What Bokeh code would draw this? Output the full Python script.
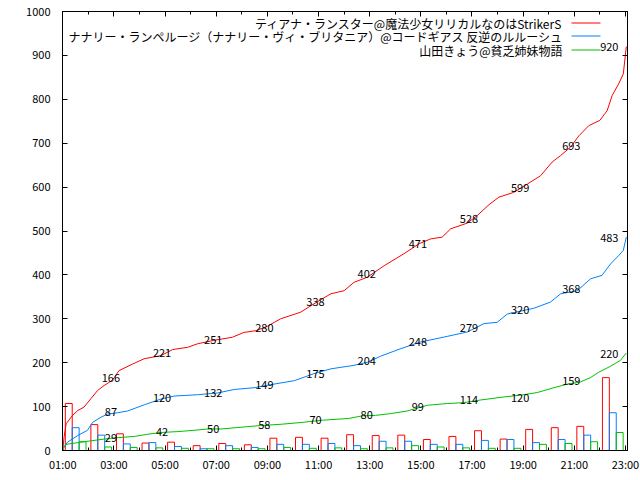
from bokeh.plotting import figure
from bokeh.models import Range1d, FixedTicker, LinearAxis, Label, Arrow, CustomLabelingPolicy
from bokeh.core.properties import value
from bokeh.embed import file_html
from bokeh.resources import INLINE

FONT = "Noto Sans CJK JP"

series_names = [
    "ティアナ・ランスター@魔法少女リリカルなのはStrikerS",
    "ナナリー・ランペルージ（ナナリー・ヴィ・ブリタニア）@コードギアス 反逆のルルーシュ",
    "山田きょう@貧乏姉妹物語",
]
colors = ["#ff0000", "#0080ff", "#00c000"]

# cumulative lines (time, cumulative count)
red_times = ["01:00", "01:03", "01:08", "01:23", "01:35", "01:50", "02:06", "02:22", "02:37", "02:53",
             "03:01", "03:12", "03:44", "04:11", "04:50", "05:18", "05:53", "06:16", "06:55", "07:38",
             "08:05", "08:33", "09:00", "09:31", "10:18", "10:49", "11:29", "12:00", "12:23", "12:55",
             "13:34", "14:20", "14:56", "15:23", "15:50", "16:10", "16:49", "17:12", "17:40", "18:03",
             "18:38", "19:10", "19:41", "20:08", "20:28", "20:51", "21:11", "21:34", "22:00", "22:17",
             "22:29", "22:44", "22:55", "22:58", "23:02"]
red_values = [0, 30, 61, 80, 91, 99, 118, 137, 148, 158,
              166, 182, 197, 209, 216, 230, 235, 243, 251, 258,
              269, 273, 283, 300, 315, 334, 357, 364, 383, 395,
              421, 448, 471, 482, 486, 505, 518, 535, 560, 577,
              588, 607, 626, 657, 672, 691, 717, 740, 752, 774,
              809, 835, 858, 885, 920]

blue_times = ["01:00", "01:01", "01:11", "01:35", "01:58", "02:10", "02:30", "02:45", "03:09", "03:32",
              "04:11", "04:50", "05:21", "06:16", "07:03", "07:42", "08:29", "09:08", "10:03", "10:49",
              "11:29", "12:23", "12:55", "13:26", "14:13", "14:59", "16:02", "16:49", "17:28", "17:59",
              "18:23", "19:25", "20:04", "20:28", "21:07", "21:38", "22:05", "22:25", "22:44", "22:55",
              "23:02"]
blue_values = [0, 4, 19, 34, 46, 64, 76, 83, 86, 90,
               104, 117, 124, 127, 131, 139, 143, 150, 159, 175,
               186, 194, 201, 215, 232, 247, 260, 270, 289, 292,
               311, 324, 338, 357, 364, 391, 399, 425, 444, 456,
               486]

green_times = ["01:00", "01:02", "01:08", "01:35", "02:06", "02:37", "03:05", "03:48", "04:19", "04:50",
               "05:29", "06:08", "06:40", "07:11", "07:46", "08:33", "09:35", "10:22", "11:09", "12:11",
               "12:43", "13:14", "13:49", "14:28", "15:15", "16:02", "16:41", "17:20", "18:15", "18:54",
               "19:33", "20:12", "20:43", "21:14", "21:38", "21:57", "22:25", "22:48", "23:02"]
green_values = [0, 8, 14, 18, 22, 26, 29, 32, 37, 41,
                43, 46, 49, 49, 52, 56, 60, 64, 69, 73,
                79, 80, 84, 90, 103, 107, 109, 115, 122, 126,
                132, 143, 151, 156, 166, 178, 192, 205, 222]

# hourly counts (bars)
bar_hours = ["01:00", "02:00", "03:00", "04:00", "05:00", "06:00", "07:00", "08:00", "09:00", "10:00", "11:00",
             "12:00", "13:00", "14:00", "15:00", "16:00", "17:00", "18:00", "19:00", "20:00", "21:00", "22:00"]
red_counts = [107, 59, 38, 17, 19, 11, 16, 13, 28, 30, 28, 36, 34, 35, 25, 32, 45, 26, 48, 52, 55, 166]
blue_counts = [52, 35, 15, 18, 9, 4, 11, 7, 14, 14, 16, 11, 21, 21, 14, 14, 23, 25, 18, 25, 35, 86]
green_counts = [20, 8, 7, 6, 5, 4, 4, 4, 7, 5, 6, 4, 6, 11, 8, 6, 5, 5, 14, 16, 20, 41]

# value labels along the lines
label_times = ["03:00", "05:00", "07:00", "09:00", "11:00", "13:00", "15:00", "17:00", "19:00", "21:00", "23:00"]
red_labels = [166, 221, 251, 280, 338, 402, 471, 528, 599, 693, 920]
blue_labels = [87, 120, 132, 149, 175, 204, 248, 279, 320, 368, 483]
green_labels = [29, 42, 50, 58, 70, 80, 99, 114, 120, 159, 220]

x_tick_labels = ["01:00", "03:00", "05:00", "07:00", "09:00", "11:00", "13:00", "15:00", "17:00", "19:00",
                 "21:00", "23:00"]
y_ticks = [0, 100, 200, 300, 400, 500, 600, 700, 800, 900, 1000]


def hrs(s):
    h, m = s.split(":")
    return int(h) + int(m) / 60.0


p = figure(width=640, height=480, output_backend="svg", toolbar_location=None,
           x_range=Range1d(0.99, 23.08), y_range=Range1d(0, 1000),
           min_border_left=62, min_border_right=13, min_border_top=11, min_border_bottom=30)
p.xgrid.visible = False
p.ygrid.visible = False
p.outline_line_color = "black"
p.outline_line_width = 1
p.background_fill_color = "white"
p.border_fill_color = "white"

xt = [hrs(s) for s in x_tick_labels]
minor = [hrs(s) for s in bar_hours] + [23.0]
xticker = FixedTicker(ticks=xt, minor_ticks=minor)
yticker = FixedTicker(ticks=y_ticks, minor_ticks=[])

xa = p.xaxis[0]
xa.ticker = xticker
xa.major_label_overrides = {hrs(s): s for s in x_tick_labels}
ya = p.yaxis[0]
ya.ticker = yticker

for ax in (xa, ya):
    ax.axis_line_color = "black"
    ax.major_tick_line_color = "black"
    ax.minor_tick_line_color = "black"
    ax.major_tick_in = 5
    ax.major_tick_out = 0
    ax.minor_tick_in = 3
    ax.minor_tick_out = 0
    ax.major_label_text_font = FONT
    ax.major_label_text_font_size = "11px"
    ax.major_label_text_color = "black"
xa.major_label_standoff = 5
ya.major_label_standoff = 12

# mirrored tick axes (no labels)
hide = CustomLabelingPolicy(code="for (const i of indices) { indices.unset(i) } return indices")
top = LinearAxis(ticker=xticker, major_label_text_font_size="0px", major_label_standoff=0,
                 major_label_policy=hide,
                 major_tick_in=5, major_tick_out=0, minor_tick_in=3, minor_tick_out=0,
                 axis_line_color="black")
right = LinearAxis(ticker=yticker, major_label_text_font_size="0px", major_label_standoff=0,
                   major_label_policy=hide,
                   major_tick_in=5, major_tick_out=0, minor_tick_in=0, minor_tick_out=0,
                   axis_line_color="black")
p.add_layout(top, "above")
p.add_layout(right, "right")

# bars
counts = [red_counts, blue_counts, green_counts]
for i, (c, col) in enumerate(zip(counts, colors)):
    xs = [hrs(h) + 0.235 + 0.27 * i for h in bar_hours]
    p.vbar(x=xs, width=0.27, top=c, bottom=0, fill_color=None, line_color=col, line_width=1)

# cumulative lines
lines = [(red_times, red_values), (blue_times, blue_values), (green_times, green_values)]
for (t, v), col in zip(lines, colors):
    p.line([hrs(s) for s in t], v, line_color=col, line_width=1)

# value labels
for labs in (red_labels, blue_labels, green_labels):
    lx = [hrs(s) for s in label_times]
    p.text(x=lx[:-1], y=labs[:-1], text=[str(v) for v in labs[:-1]],
           text_font=value(FONT), text_font_size="11px", text_color="black",
           text_align="center", text_baseline="middle", x_offset=-3)
    p.text(x=lx[-1:], y=labs[-1:], text=[str(v) for v in labs[-1:]],
           text_font=value(FONT), text_font_size="11px", text_color="black",
           text_align="right", text_baseline="middle", x_offset=-7)

# legend (manual: text right-aligned, sample line on the right)
leg_y = [427.5, 414.5, 400.5]
for name, col, yy in zip(series_names, colors, leg_y):
    p.add_layout(Label(x=500, y=yy, x_units="screen", y_units="screen", text=name,
                       text_align="right", text_baseline="middle", text_font=FONT,
                       text_font_size="12px", text_color="black"))
    p.add_layout(Arrow(end=None, start=None, x_start=509, y_start=yy, x_end=538, y_end=yy,
                       start_units="screen", end_units="screen", line_color=col, line_width=1))

open("out.html", "w").write(file_html(p, INLINE))
